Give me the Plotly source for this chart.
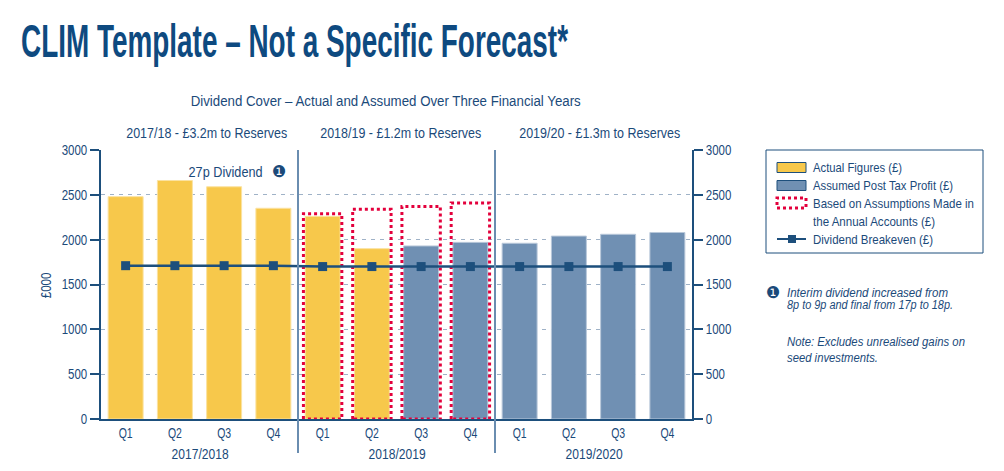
import json
import plotly.graph_objects as go

# ---------------- data ----------------
quarters = ["Q1", "Q2", "Q3", "Q4"] * 3
years = ["2017/2018", "2018/2019", "2019/2020"]
year_headers = ["2017/18 - £3.2m to Reserves", "2018/19 - £1.2m to Reserves", "2019/20 - £1.3m to Reserves"]
actual = [2480, 2660, 2590, 2350, 2260, 1900, None, None, None, None, None, None]
assumed = [None, None, None, None, None, None, 1930, 1970, 1960, 2040, 2060, 2080]
annual_accounts = [None, None, None, None, 2290, 2340, 2370, 2410, None, None, None, None]
breakeven = [1710, 1710, 1710, 1710, 1700, 1700, 1700, 1700, 1700, 1700, 1700, 1700]
y_ticks = [0, 500, 1000, 1500, 2000, 2500, 3000]

TITLE_TEXT = "CLIM Template – Not a Specific Forecast*"
SUBTITLE = "Dividend Cover – Actual and Assumed Over Three Financial Years"
DIV_NOTE = "27p Dividend"
LEGEND_LABELS = ["Actual Figures (£)", "Assumed Post Tax Profit (£)", "Based on Assumptions Made in",
                 "the Annual Accounts (£)", "Dividend Breakeven (£)"]
FOOTNOTES = ["Interim dividend increased from", "8p to 9p and final from 17p to 18p.",
             "Note: Excludes unrealised gains on", "seed investments."]
NOTE_MARK = "❶"

# ---------------- style ----------------
PAGE_OFF = 8                      # default body margin of the html page
W, H = 1004 - PAGE_OFF, 471 - PAGE_OFF
L, R, T, B = 101, 692, 150, 419   # plot area in page pixels
NAVY = "#1b4a7a"
TITLE = "#0e4a80"
AXIS = "#1d4f7c"
YELLOW = "#f7c84b"
BLUE = "#7090b3"
RED = "#e3003c"
GRID = "#9fb2c7"
SEP = "#6a8db0"
FONT = "Liberation Sans, Arial, sans-serif"

x = list(range(len(quarters)))


def px(xp):
    return (xp - L) / (R - L)


def py(yp):
    return (B - yp) / (B - T)


fig = go.Figure()

fig.add_trace(go.Bar(x=x, y=actual, width=0.71, marker=dict(color=YELLOW, line=dict(color="#fbe2a0", width=1)),
                     name=LEGEND_LABELS[0], showlegend=False))
fig.add_trace(go.Bar(x=x, y=assumed, width=0.71, marker=dict(color=BLUE, line=dict(color="#b9c8da", width=1)),
                     name=LEGEND_LABELS[1], showlegend=False))

# dotted rectangles for annual accounts assumptions
hw = 0.39
rx, ry = [], []
for i, v in zip(x, annual_accounts):
    if v is None:
        continue
    rx += [i - hw, i - hw, i + hw, i + hw, i - hw, None]
    ry += [0, v, v, 0, 0, None]
fig.add_trace(go.Scatter(x=rx, y=ry, mode="lines", line=dict(color=RED, width=3, dash="3px,3px"),
                         showlegend=False, hoverinfo="skip"))

fig.add_trace(go.Scatter(x=x, y=breakeven, mode="lines+markers", line=dict(color=AXIS, width=2.5),
                         marker=dict(symbol="square", size=9, color=AXIS), showlegend=False,
                         name=LEGEND_LABELS[4]))
# invisible trace on right axis
fig.add_trace(go.Scatter(x=[x[0]], y=[0], yaxis="y2", mode="markers", marker=dict(opacity=0),
                         showlegend=False, hoverinfo="skip"))

fig.update_layout(
    width=W, height=H,
    margin=dict(l=L - PAGE_OFF, r=1004 - R, t=T - PAGE_OFF, b=471 - B),
    paper_bgcolor="white", plot_bgcolor="white",
    barmode="overlay",
    font=dict(family=FONT, color=NAVY, size=14),
    xaxis=dict(range=[-0.5, 11.5], tickvals=x, ticktext=quarters, showgrid=False, zeroline=False,
               showline=True, linecolor=AXIS, linewidth=2, ticks="", tickfont=dict(size=14, color=NAVY),
               fixedrange=True),
    yaxis=dict(range=[0, 3000], tickvals=y_ticks, showgrid=True, gridcolor=GRID, griddash="4px,5px",
               gridwidth=1, zeroline=False, showline=True, linecolor=AXIS, linewidth=2, ticks="outside",
               ticklen=9, tickcolor=AXIS, tickwidth=2, tickfont=dict(size=14, color=NAVY)),
    yaxis2=dict(range=[0, 3000], tickvals=y_ticks, overlaying="y", side="right", showgrid=False,
                zeroline=False, showline=True, linecolor=AXIS, linewidth=2, ticks="outside", ticklen=9,
                tickcolor=AXIS, tickwidth=2, tickfont=dict(size=14, color=NAVY)),
)

# separators between financial years
for k in (1, 2):
    xs = 4 * k - 0.5
    fig.add_shape(type="line", xref="x", yref="paper", x0=xs, x1=xs, y0=py(453), y1=1,
                  line=dict(color=SEP, width=2), layer="above")

ann = []
# Title
ann.append(dict(text="<b>" + TITLE_TEXT + "</b>", x=px(19), y=py(41),
                xanchor="left", align="left", yanchor="middle", showarrow=False,
                font=dict(size=46, color=TITLE)))
ann.append(dict(text=SUBTITLE, x=px(385), y=py(101),
                xanchor="center", yanchor="middle", showarrow=False, font=dict(size=14, color=NAVY)))
for cx, t in zip([206, 400, 599], year_headers):
    ann.append(dict(text=t, x=px(cx), y=py(132), xanchor="center", yanchor="middle", showarrow=False,
                    font=dict(size=15, color=NAVY)))
# year group labels
for k, yl in enumerate(years):
    ann.append(dict(text=yl, x=4 * k + 1.5, xref="x", y=py(454), xanchor="center", yanchor="middle",
                    showarrow=False, font=dict(size=14, color=NAVY)))
# y title
ann.append(dict(text="£000", x=px(46), y=py(285), textangle=-90, xanchor="center", yanchor="middle",
                showarrow=False, font=dict(size=14, color=NAVY)))
# dividend annotation
ann.append(dict(text=DIV_NOTE, x=px(265), y=py(171),
                xanchor="right", align="right", yanchor="middle", showarrow=False,
                font=dict(size=15, color=NAVY)))
ann.append(dict(text=NOTE_MARK, x=px(279), y=py(171), xanchor="center", yanchor="middle", showarrow=False,
                font=dict(size=16, color=NAVY, family="DejaVu Sans")))

# manual legend
fig.add_shape(type="rect", xref="paper", yref="paper", x0=px(766), x1=px(983), y0=py(253), y1=py(150),
              line=dict(color=AXIS, width=1), fillcolor="white")
sw0, sw1 = px(777), px(806)
fig.add_shape(type="rect", xref="paper", yref="paper", x0=sw0, x1=sw1, y0=py(172.5), y1=py(162.5),
              line=dict(color=AXIS, width=1), fillcolor=YELLOW)
fig.add_shape(type="rect", xref="paper", yref="paper", x0=sw0, x1=sw1, y0=py(190.5), y1=py(180.5),
              line=dict(color=AXIS, width=1), fillcolor=BLUE)
fig.add_shape(type="rect", xref="paper", yref="paper", x0=sw0, x1=sw1, y0=py(208), y1=py(198),
              line=dict(color=RED, width=3, dash="3px,3px"), fillcolor="rgba(0,0,0,0)")
fig.add_shape(type="line", xref="paper", yref="paper", x0=sw0, x1=sw1, y0=py(239), y1=py(239),
              line=dict(color=AXIS, width=2))
fig.add_shape(type="rect", xref="paper", yref="paper", x0=px(788), x1=px(796), y0=py(243), y1=py(235),
              line=dict(color=AXIS, width=0), fillcolor=AXIS)
for t, yy in zip(LEGEND_LABELS, [167.5, 185.5, 203, 221, 239]):
    ann.append(dict(text=t, x=px(811), y=py(yy), xanchor="left", align="left", yanchor="middle",
                    showarrow=False, font=dict(size=13, color=NAVY)))

# footnotes
ann.append(dict(text=NOTE_MARK, x=px(773), y=py(292.5), xanchor="center",
                yanchor="middle", showarrow=False, font=dict(size=16, color=NAVY, family="DejaVu Sans")))
for t, yy in zip(FOOTNOTES, [292.5, 305, 342, 358]):
    ann.append(dict(text="<i>" + t + "</i>", x=px(785), y=py(yy), xanchor="left", align="left",
                    yanchor="middle", showarrow=False, font=dict(size=12.5, color=NAVY)))

fig.update_layout(annotations=[dict(a, xref=a.get("xref", "paper"), yref="paper") for a in ann])

# target text widths (px) measured on the reference, to mimic its condensed typeface
widths = {TITLE_TEXT: 547, SUBTITLE: 390, DIV_NOTE: 74, NOTE_MARK: -1}
widths.update({h: 161 for h in year_headers})
widths.update({yl: 57 for yl in years})
widths.update({q: 14 for q in quarters})
widths.update(dict(zip(LEGEND_LABELS, [89, 140, 161, 122, 120])))
widths.update(dict(zip(FOOTNOTES, [161, 166, 178, 91])))

post = """
var gd = document.getElementById('{plot_id}');
var targets = %s;
gd.querySelectorAll('svg text').forEach(function(t){
  var s = (t.textContent || '').replace(/\\u200b/g, '').trim();
  if (!s) return;
  var w = t.getComputedTextLength();
  if (!w) return;
  var tw = Object.prototype.hasOwnProperty.call(targets, s) ? targets[s] : w * 0.82;
  if (tw < 0) return;
  t.setAttribute('textLength', tw);
  t.setAttribute('lengthAdjust', 'spacingAndGlyphs');
});
""" % json.dumps(widths, ensure_ascii=False)

fig.write_html("out.html", post_script=post)
